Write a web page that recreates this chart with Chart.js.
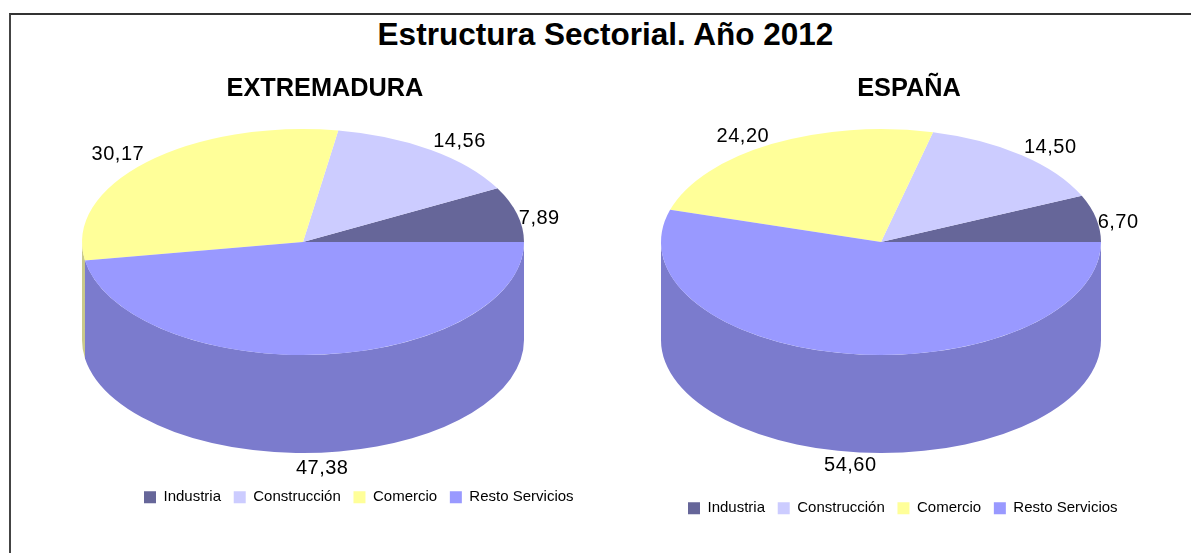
<!DOCTYPE html>
<html lang="es">
<head>
<meta charset="utf-8">
<title>Estructura Sectorial. Año 2012</title>
<style>
html,body{margin:0;padding:0;background:#fff;overflow:hidden;width:1191px;height:553px}
#frame{position:absolute;left:9px;top:13px;width:1182px;height:540px;border-top:2px solid #333;border-left:2px solid #444;box-sizing:border-box}
#main{position:absolute;left:0;width:1211px;top:14px;text-align:center;font:bold 31.5px "Liberation Sans",Arial,sans-serif;color:#000;line-height:40px}
canvas{position:absolute;left:0;top:0}
</style>
<script src="https://cdn.jsdelivr.net/npm/chart.js@4"></script>
</head>
<body>
<div id="frame"></div>
<div id="main">Estructura Sectorial. Año 2012</div>
<canvas id="left" width="1191" height="553"></canvas>
<canvas id="right" width="1191" height="553"></canvas>
<script>
const categories = ["Industria", "Construcción", "Comercio", "Resto Servicios"];
const extremadura = [7.89, 14.56, 30.17, 47.38];
const espana = [6.70, 14.50, 24.20, 54.60];
const topColors = ["#666699", "#ccccff", "#ffff99", "#9999ff"];
const wallColors = ["#52527a", "#a3a3cc", "#c9c98a", "#7b7bcd"];
const FONT = '"Liberation Sans", Arial, sans-serif';

const pie3d = {
  id: "pie3d",
  afterLayout(chart, args, o) {
    const lg = chart.legend, t = chart.titleBlock, w = lg.right - lg.left, h = lg.bottom - lg.top;
    lg.left = o.legendX - 12.7; lg.right = lg.left + w; lg.top = o.legendY; lg.bottom = lg.top + h;
    const th = t.bottom - t.top;
    t.left = o.titleX - 300; t.right = o.titleX + 300; t.top = o.titleY; t.bottom = t.top + th;
  },
  beforeDatasetsDraw(chart, args, o) {
    const ctx = chart.ctx, arcs = chart.getDatasetMeta(0).data;
    // side wall of the cylinder, one piece per slice, for the part facing the viewer
    arcs.forEach((arc, i) => {
      const s = Math.max(arc.startAngle, Math.PI), e = Math.min(arc.endAngle, 2 * Math.PI);
      if (e <= s) return;
      const a0 = 2 * Math.PI - e, a1 = 2 * Math.PI - s;
      ctx.save();
      ctx.beginPath();
      ctx.ellipse(o.cx, o.cy, o.rx, o.ry, 0, a0, a1);
      ctx.ellipse(o.cx, o.cy + o.depth, o.rx, o.ry, 0, a1, a0, true);
      ctx.closePath();
      ctx.fillStyle = wallColors[i];
      ctx.fill();
      ctx.restore();
    });
    // squash and mirror the library's pie: slices run counter-clockwise from 3 o'clock
    const c = arcs[0];
    ctx.save();
    ctx.translate(o.cx, o.cy);
    ctx.scale(1, -o.ry / o.rx);
    ctx.translate(-c.x, -c.y);
  },
  afterDatasetsDraw(chart, args, o) {
    const ctx = chart.ctx, meta = chart.getDatasetMeta(0), values = chart.data.datasets[0].data;
    ctx.restore();
    ctx.save();
    ctx.font = "20px " + FONT;
    ctx.letterSpacing = "0.5px";
    ctx.fillStyle = "#000";
    ctx.textAlign = "center";
    ctx.textBaseline = "middle";
    meta.data.forEach((arc, i) => {
      const m = (arc.startAngle + arc.endAngle) / 2;
      const cos = Math.cos(m), sin = Math.sin(m);
      const text = values[i].toFixed(2).replace(".", ",");
      let dx, dy;
      if (sin < 0) { dx = 1; dy = o.depth + o.bottomGap; }   // below the cylinder
      else if (sin > 0.5) { dx = Math.sign(cos) * 28.5; dy = -9; } // above the rim
      else { dx = Math.sign(cos) * 22; dy = 3.5; }           // beside the rim
      ctx.fillText(text, o.cx + o.rx * cos + dx, o.cy - o.ry * sin + dy + 1);
    });
    ctx.restore();
  }
};

function makeChart(id, name, values, place) {
  return new Chart(document.getElementById(id), {
    type: "pie",
    data: {
      labels: categories,
      datasets: [{ data: values, backgroundColor: topColors, borderWidth: 0 }]
    },
    plugins: [pie3d],
    options: {
      responsive: false,
      animation: false,
      events: [],
      rotation: 90,
      radius: place.rx,
      plugins: {
        tooltip: { enabled: false },
        pie3d: place,
        title: {
          display: true, text: name, color: "#000", padding: 0,
          font: { family: FONT, size: 25.3, weight: "bold" }
        },
        legend: {
          position: "bottom", align: "start",
          labels: {
            boxWidth: 12, boxHeight: 12, padding: 12.7, color: "#000",
            font: { family: FONT, size: 15 }
          }
        }
      }
    }
  });
}

makeChart("left", "EXTREMADURA", extremadura,
  { cx: 303, cy: 242, rx: 221, ry: 113, depth: 98, bottomGap: 15, legendX: 144, legendY: 477, titleX: 325, titleY: 74 });
makeChart("right", "ESPAÑA", espana,
  { cx: 881, cy: 242, rx: 220, ry: 113, depth: 98, bottomGap: 13, legendX: 688, legendY: 488, titleX: 909, titleY: 74 });
</script>
</body>
</html>
